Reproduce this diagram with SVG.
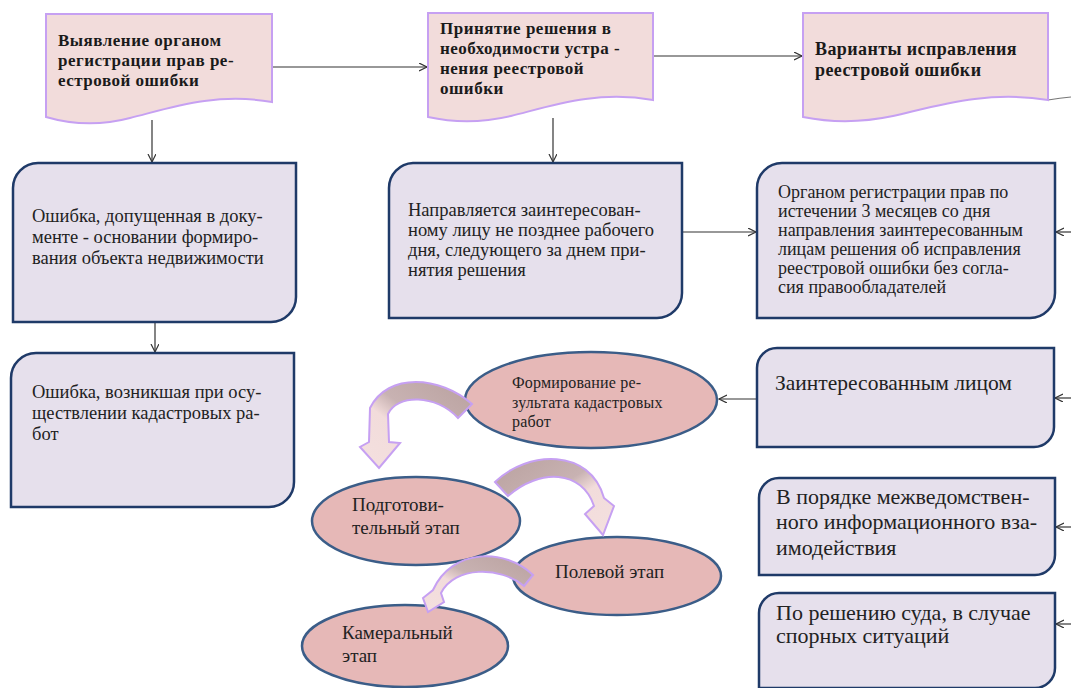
<svg xmlns="http://www.w3.org/2000/svg" width="1071" height="688" viewBox="0 0 1071 688">
<style>
.doc{fill:#f2dcdb;stroke:#c6a0f2;stroke-width:2}
.box{fill:#e6e0ec;stroke:#1f3a68;stroke-width:2.5}
.ell{fill:#e6b8b7;stroke:#3b5d88;stroke-width:2.5}
.bt{font-family:"Liberation Serif",serif;font-weight:bold;font-size:17px;letter-spacing:0.5px;fill:#1a1a1a}
.t{font-family:"Liberation Serif",serif;font-size:18.5px;fill:#222}
.ts{font-family:"Liberation Serif",serif;font-size:16px;letter-spacing:0.2px;fill:#222}
.te{font-family:"Liberation Serif",serif;font-size:19px;fill:#222}
.tl{font-family:"Liberation Serif",serif;font-size:22px;fill:#222}
.ln{fill:none;stroke:#333;stroke-width:1.2}
.barrow{stroke:#c6a0f2;stroke-width:2}
</style>
<defs>
<marker id="ah" markerWidth="10" markerHeight="10" refX="8" refY="4" orient="auto" markerUnits="userSpaceOnUse">
<path d="M0,0 L8,4 L0,8" fill="none" stroke="#333" stroke-width="1.2"/>
</marker>
<linearGradient id="g1" x1="1" y1="0" x2="0" y2="1">
<stop offset="0" stop-color="#b9a19f"/>
<stop offset="0.45" stop-color="#c8b2b2"/>
<stop offset="0.6" stop-color="#f2dcdb"/>
<stop offset="1" stop-color="#f4e0df"/>
</linearGradient>
<linearGradient id="g2" x1="0" y1="0" x2="1" y2="1">
<stop offset="0" stop-color="#b9a19f"/>
<stop offset="0.45" stop-color="#c8b2b2"/>
<stop offset="0.6" stop-color="#f2dcdb"/>
<stop offset="1" stop-color="#f4e0df"/>
</linearGradient>
</defs>

<g id="connectors">
<path class="ln" d="M272,67 H427" marker-end="url(#ah)"/>
<path class="ln" d="M653,56 H802" marker-end="url(#ah)"/>
<path class="ln" d="M152,120 V162" marker-end="url(#ah)"/>
<path class="ln" d="M553,118 V162" marker-end="url(#ah)"/>
<path class="ln" d="M155,322 V352" marker-end="url(#ah)"/>
<path class="ln" d="M682,232 H756" marker-end="url(#ah)"/>
<path class="ln" d="M1071,232 H1056" marker-end="url(#ah)"/>
<path class="ln" d="M1071,398 H1055" marker-end="url(#ah)"/>
<path class="ln" d="M1071,527 H1056" marker-end="url(#ah)"/>
<path class="ln" d="M1071,624 H1056" marker-end="url(#ah)"/>
<path class="ln" d="M757,399 H719" marker-end="url(#ah)"/>
<path d="M1048,100 Q1060,98 1071,97" fill="none" stroke="#777" stroke-width="1.2"/>
</g>

<g id="doc1">
<path class="doc" d="M46,14 H272 V102 C215,92 170,108 130,118 C100,126 70,124 46,117 Z"/>
<text class="bt" x="58" y="46">Выявление органом</text>
<text class="bt" x="58" y="66">регистрации прав ре-</text>
<text class="bt" x="58" y="86">естровой ошибки</text>
</g>

<g id="doc2">
<path class="doc" d="M428,13 H653 V100 C596,90 551,106 511,116 C481,123 451,122 428,117 Z"/>
<text class="bt" x="440" y="34">Принятие решения в</text>
<text class="bt" x="440" y="54">необходимости устра -</text>
<text class="bt" x="440" y="74">нения реестровой</text>
<text class="bt" x="440" y="94">ошибки</text>
</g>

<g id="doc3">
<path class="doc" d="M803,13 H1048 V100 C986,90 937,106 893,116 C860,123 828,122 803,117 Z"/>
<text class="bt" x="815" y="55" style="font-size:18px;letter-spacing:0.4px">Варианты исправления</text>
<text class="bt" x="815" y="76" style="font-size:18px;letter-spacing:0.4px">реестровой ошибки</text>
</g>

<g id="boxA">
<path class="box" d="M38,163 H296 V297 A25,25 0 0 1 271,322 H13 V188 A25,25 0 0 1 38,163 Z"/>
<text class="t" x="32" y="222">Ошибка, допущенная в доку-</text>
<text class="t" x="32" y="243">менте - основании формиро-</text>
<text class="t" x="32" y="264">вания объекта недвижимости</text>
</g>

<g id="boxB">
<path class="box" d="M413,163 H682 V293 A25,25 0 0 1 657,318 H389 V188 A25,25 0 0 1 413,163 Z"/>
<text class="t" x="408" y="216">Направляется заинтересован-</text>
<text class="t" x="408" y="236">ному лицу не позднее рабочего</text>
<text class="t" x="408" y="256">дня, следующего за днем при-</text>
<text class="t" x="408" y="276">нятия решения</text>
</g>

<g id="boxC">
<path class="box" d="M782,163 H1055 V293 A25,25 0 0 1 1030,318 H757 V188 A25,25 0 0 1 782,163 Z"/>
<text class="t" x="778" y="198" style="font-size:18px">Органом регистрации прав по</text>
<text class="t" x="778" y="217" style="font-size:18px">истечении 3 месяцев со дня</text>
<text class="t" x="778" y="236" style="font-size:18px">направления заинтересованным</text>
<text class="t" x="778" y="255" style="font-size:18px">лицам решения об исправления</text>
<text class="t" x="778" y="274" style="font-size:18px">реестровой ошибки без согла-</text>
<text class="t" x="778" y="293" style="font-size:18px">сия правообладателей</text>
</g>

<g id="boxD">
<path class="box" d="M36,353 H294 V482 A25,25 0 0 1 269,507 H11 V378 A25,25 0 0 1 36,353 Z"/>
<text class="t" x="32" y="398">Ошибка, возникшая при осу-</text>
<text class="t" x="32" y="419">ществлении кадастровых ра-</text>
<text class="t" x="32" y="440">бот</text>
</g>

<g id="boxE">
<path class="box" d="M777,348 H1054 V427 A20,20 0 0 1 1034,447 H757 V368 A20,20 0 0 1 777,348 Z"/>
<text class="tl" x="775" y="390" style="font-size:21.5px">Заинтересованным лицом</text>
</g>

<g id="boxF">
<path class="box" d="M779,478 H1055 V555 A20,20 0 0 1 1035,575 H759 V498 A20,20 0 0 1 779,478 Z"/>
<text class="tl" x="776" y="504">В порядке межведомствен-</text>
<text class="tl" x="776" y="529">ного информационного вза-</text>
<text class="tl" x="776" y="555">имодействия</text>
</g>

<g id="boxG">
<path class="box" d="M779,593 H1055 V668 A20,20 0 0 1 1035,688 H759 V613 A20,20 0 0 1 779,593 Z"/>
<text class="tl" x="776" y="620">По решению суда, в случае</text>
<text class="tl" x="776" y="643">спорных ситуаций</text>
</g>

<g id="ellipse1">
<ellipse class="ell" cx="591" cy="400" rx="126" ry="48"/>
<text class="ts" x="512" y="388">Формирование ре-</text>
<text class="ts" x="512" y="408">зультата кадастровых</text>
<text class="ts" x="512" y="427">работ</text>
</g>

<g id="ellipse2">
<ellipse class="ell" cx="416" cy="521" rx="104" ry="44"/>
<text class="te" x="352" y="511">Подготови-</text>
<text class="te" x="352" y="534">тельный этап</text>
</g>

<g id="ellipse3">
<ellipse class="ell" cx="617" cy="576" rx="104" ry="39"/>
<text class="te" x="555" y="578">Полевой этап</text>
</g>

<g id="ellipse4">
<ellipse class="ell" cx="405" cy="646" rx="103" ry="41"/>
<text class="te" x="342" y="639">Камеральный</text>
<text class="te" x="342" y="662">этап</text>
</g>

<g id="curved-arrows">
<path class="barrow" fill="url(#g1)" d="M472,404 C440,376 388,372 370,408 L369,442 L360,447 L379,468 L400,443 L389,442 L388,414 C397,394 436,394 458,418 Z"/>
<path class="barrow" fill="url(#g2)" d="M495,482 C528,450 590,448 604,498 L614,506 L603,535 L585,514 L594,506 C582,470 540,468 508,496 Z"/>
<path class="barrow" fill="url(#g1)" d="M533,575 C505,548 452,548 433,590 L423,598 L428,612 L444,602 L441,593 C455,566 500,566 524,586 Z"/>
</g>
</svg>
